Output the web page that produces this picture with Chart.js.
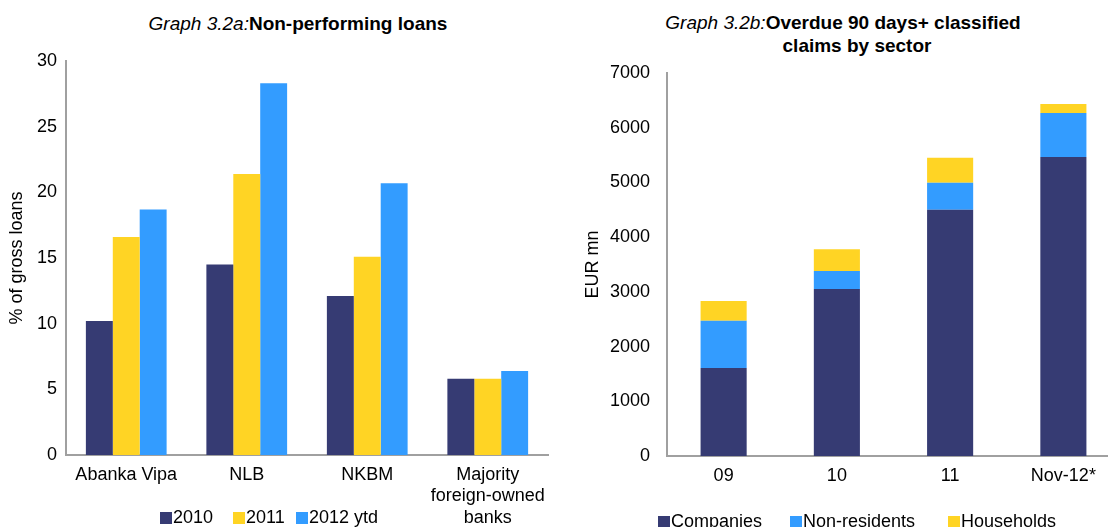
<!DOCTYPE html>
<html>
<head>
<meta charset="utf-8">
<script src="https://cdn.jsdelivr.net/npm/chart.js@4/dist/chart.umd.min.js"></script>
<style>
    html, body { margin: 0; padding: 0; background: #fff; overflow: hidden; width: 1108px; height: 527px; }
    .titulo { position: absolute; font-family: "Liberation Sans", Arial, sans-serif; font-size: 19px; line-height: 22px; text-align: center; color: #000; white-space: nowrap; }
    #graf1 { position: absolute; left: 0; top: 0; }
    #graf2 { position: absolute; left: 555px; top: 0; }
</style>
</head>
<body>
<div class="titulo" style="left:0; top:13px; width:596px;"><i>Graph 3.2a:</i><b>Non-performing loans</b></div>
<div class="titulo" style="left:543px; top:12px; width:600px;"><i>Graph 3.2b:</i><b>Overdue 90 days+ classified</b></div>
<div class="titulo" style="left:557px; top:35px; width:600px;"><b>claims by sector</b></div>
<canvas id="graf1" width="555" height="527"></canvas>
<canvas id="graf2" width="580" height="527"></canvas>
<script>
// Graph 3.2a - dados
const bancos = ['Abanka Vipa', 'NLB', 'NKBM', ['Majority', 'foreign-owned', 'banks']];
const npl2010 = [10.2, 14.5, 12.1, 5.8];
const npl2011 = [16.6, 21.4, 15.1, 5.8];
const npl2012 = [18.7, 28.3, 20.7, 6.4];
const ticksA = [0, 5, 10, 15, 20, 25, 30];

// Graph 3.2b - dados
const anos = ['09', '10', '11', 'Nov-12*'];
const companies = [1610, 3050, 4500, 5465];
const nonResidents = [860, 330, 495, 805];
const households = [365, 400, 455, 165];
const ticksB = [0, 1000, 2000, 3000, 4000, 5000, 6000, 7000];

const AZUL_ESCURO = '#363B73';
const AMARELO = '#FFD424';
const AZUL = '#339CFF';
const fonte = { family: '"Liberation Sans", Arial, sans-serif', size: 18 };

Chart.defaults.font = fonte;
Chart.defaults.color = '#000';
Chart.defaults.animation = false;

// legenda desenhada a mao, em posicoes fixas
const legendaCaixas = {
    id: 'legendaCaixas',
    afterDraw(chart, args, opts) {
        const ctx = chart.ctx;
        ctx.save();
        ctx.font = '18px "Liberation Sans", Arial, sans-serif';
        ctx.textBaseline = 'middle';
        chart.data.datasets.forEach(function (ds, i) {
            const x = opts.xs[i];
            ctx.fillStyle = ds.backgroundColor;
            ctx.fillRect(x, opts.y - 6, 12, 12);
            ctx.fillStyle = '#000';
            ctx.fillText(ds.label, x + 13, opts.y);
        });
        ctx.restore();
    }
};

const eixo = { display: true, color: '#a0a0a0', width: 2 };

graf1 = new Chart(document.getElementById('graf1'), {
    type: 'bar',
    data: {
        labels: bancos,
        datasets: [
            { label: '2010', data: npl2010, backgroundColor: AZUL_ESCURO },
            { label: '2011', data: npl2011, backgroundColor: AMARELO },
            { label: '2012 ytd', data: npl2012, backgroundColor: AZUL }
        ]
    },
    options: {
        responsive: false,
        layout: { padding: { top: 61, right: 7, left: 0, bottom: 0 } },
        datasets: { bar: { barPercentage: 1, categoryPercentage: 0.67 } },
        plugins: {
            legend: { display: false },
            tooltip: { enabled: false },
            legendaCaixas: { y: 518, xs: [160, 233, 296] }
        },
        scales: {
            x: {
                grid: { display: false, drawTicks: false },
                border: eixo,
                ticks: { maxRotation: 0, autoSkip: false, padding: 9 },
                afterFit: function (s) { s.height = 72; }
            },
            y: {
                min: 0, max: 30,
                afterBuildTicks: function (s) { s.ticks = ticksA.map(v => ({ value: v })); },
                grid: { display: false, drawTicks: false },
                border: eixo,
                ticks: { padding: 9, callback: v => String(v) },
                title: { display: true, text: '% of gross loans', padding: { top: 6, bottom: 0 } },
                afterFit: function (s) { s.width = 66; }
            }
        }
    },
    plugins: [legendaCaixas]
});

graf2 = new Chart(document.getElementById('graf2'), {
    type: 'bar',
    data: {
        labels: anos,
        datasets: [
            { label: 'Companies', data: companies, backgroundColor: AZUL_ESCURO },
            { label: 'Non-residents', data: nonResidents, backgroundColor: AZUL },
            { label: 'Households', data: households, backgroundColor: AMARELO }
        ]
    },
    options: {
        responsive: false,
        layout: { padding: { top: 73, right: 15, left: 0, bottom: 0 } },
        datasets: { bar: { barPercentage: 1, categoryPercentage: 0.407 } },
        plugins: {
            legend: { display: false },
            tooltip: { enabled: false },
            legendaCaixas: { y: 522, xs: [103, 235, 393] }
        },
        scales: {
            x: {
                stacked: true,
                grid: { display: false, drawTicks: false },
                border: eixo,
                ticks: { maxRotation: 0, autoSkip: false, padding: 9 },
                afterFit: function (s) { s.height = 71; }
            },
            y: {
                stacked: true,
                min: 0, max: 7000,
                afterBuildTicks: function (s) { s.ticks = ticksB.map(v => ({ value: v })); },
                grid: { display: false, drawTicks: false },
                border: eixo,
                ticks: { padding: 17, callback: v => String(v) },
                title: { display: true, text: 'EUR mn', padding: { top: 27, bottom: 0 } },
                afterFit: function (s) { s.width = 112; }
            }
        }
    },
    plugins: [legendaCaixas]
});
</script>
</body>
</html>
